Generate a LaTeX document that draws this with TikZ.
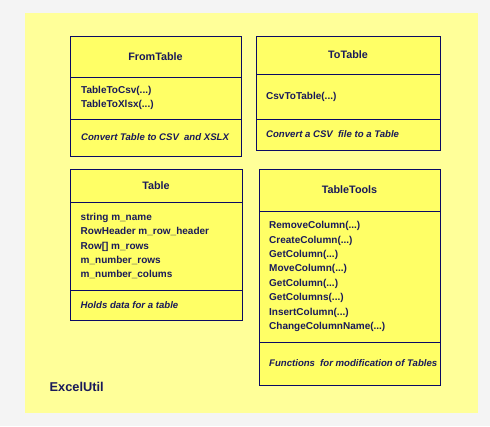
\documentclass[tikz,border=0pt]{standalone}
\usepackage{fontspec}
\setmainfont{Liberation Sans}
\definecolor{bgcol}{HTML}{F4F4F4}
\definecolor{pkgfill}{HTML}{FFFF99}
\definecolor{boxfill}{HTML}{FFFF66}
\definecolor{bordercol}{HTML}{0A0A64}
\definecolor{txtcol}{HTML}{1A1A5A}
\newcommand{\gapx}{\hspace{2.5pt}}
\begin{document}
\begin{tikzpicture}[x=1pt,y=-1pt,
  comp/.style={draw=bordercol, fill=boxfill, line width=0.9pt, anchor=north west,
    inner sep=0pt, outer sep=0pt},
  hdr/.style={text=txtcol, inner sep=0pt, align=center, font=\bfseries\fontsize{10.8}{13}\selectfont},
  body/.style={text=txtcol, inner sep=0pt, anchor=west, align=left, font=\bfseries\fontsize{10}{14.4}\selectfont},
  note/.style={body, font=\bfseries\itshape\fontsize{9.6}{14.4}\selectfont},
  pkg/.style={fill=pkgfill, draw=none, anchor=north west, inner sep=0pt, outer sep=0pt},
  pkglabel/.style={text=txtcol, font=\bfseries\fontsize{12.8}{15}\selectfont, inner sep=0pt}]
\fill[bgcol] (0,0) rectangle (490,426);
\useasboundingbox (0,0) rectangle (490,426);
\node[pkg, minimum width=453pt, minimum height=400pt] (pkg) at (25,13) {};
% FromTable
\node[comp, minimum width=171pt, minimum height=41pt] (fth) at (70,36) {};
\node[comp, minimum width=171pt, minimum height=42pt] (ftm) at (70,77) {};
\node[comp, minimum width=171pt, minimum height=37pt] (ftn) at (70,119) {};
\node[hdr] (fthl) at (fth.center) {FromTable};
\node[body] (ftml) at ([xshift=11pt]ftm.west) {TableToCsv(...)\\TableToXlsx(...)};
\node[note] (ftnl) at ([xshift=11pt]ftn.west) {Convert Table to CSV\gapx{} and XSLX};
% ToTable
\node[comp, minimum width=184pt, minimum height=38pt] (tth) at (256,36) {};
\node[comp, minimum width=184pt, minimum height=45pt] (ttm) at (256,74) {};
\node[comp, minimum width=184pt, minimum height=31pt] (ttn) at (256,119) {};
\node[hdr] (tthl) at (tth.center) {ToTable};
\node[body] (ttml) at ([xshift=10pt]ttm.west) {CsvToTable(...)};
\node[note] (ttnl) at ([xshift=10pt]ttn.west) {Convert a CSV\gapx{} file to a Table};
% Table
\node[comp, minimum width=172pt, minimum height=33pt] (tbh) at (70,169) {};
\node[comp, minimum width=172pt, minimum height=88pt] (tbm) at (70,202) {};
\node[comp, minimum width=172pt, minimum height=30pt] (tbn) at (70,290) {};
\node[hdr] (tbhl) at (tbh.center) {Table};
\node[body] (tbml) at ([xshift=10.5pt]tbm.west) {string m\_name\\RowHeader m\_row\_header\\Row[] m\_rows\\m\_number\_rows\\m\_number\_colums};
\node[note] (tbnl) at ([xshift=10.5pt]tbn.west) {Holds data for a table};
% TableTools
\node[comp, minimum width=181pt, minimum height=42pt] (tgh) at (259,169) {};
\node[comp, minimum width=181pt, minimum height=131pt] (tgm) at (259,211) {};
\node[comp, minimum width=181pt, minimum height=43pt] (tgn) at (259,342) {};
\node[hdr] (tghl) at (tgh.center) {TableTools};
\node[body] (tgml) at ([xshift=10pt]tgm.west) {RemoveColumn(...)\\CreateColumn(...)\\GetColumn(...)\\MoveColumn(...)\\GetColumn(...)\\GetColumns(...)\\InsertColumn(...)\\ChangeColumnName(...)};
\node[note] (tgnl) at ([xshift=10pt]tgn.west) {Functions\gapx{} for modification of Tables};
% package label
\node[pkglabel, anchor=west] (pkgl) at (49.5,387) {ExcelUtil};
\end{tikzpicture}
\end{document}
